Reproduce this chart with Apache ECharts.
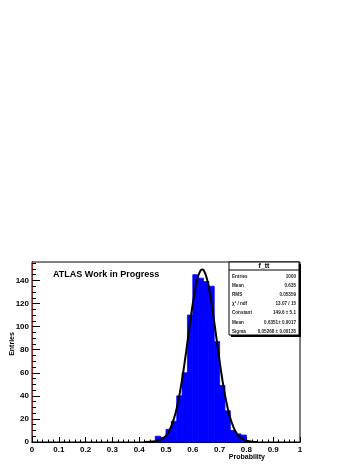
<!DOCTYPE html>
<html><head><meta charset="utf-8">
<script src="https://cdn.jsdelivr.net/npm/echarts@6/dist/echarts.min.js"></script>
<style>html,body{margin:0;padding:0;background:#fff}#c{width:360px;height:466px}</style>
</head><body><div id="c"></div>
<script>
// Histogram bins (lower edges) and counts, bin width 0.02
const binLow = [0.46,0.48,0.50,0.52,0.54,0.56,0.58,0.60,0.62,0.64,0.66,0.68,0.70,0.72,0.74,0.76,0.78];
const counts = [5,4,11,18,40,60,110,145,142,139,135,87,49,27,10,7,6];
const binWidth = 0.02;
// Fitted curve
const fitX = [0.42,0.44,0.46,0.47,0.48,0.49,0.50,0.51,0.52,0.53,0.54,0.55,0.56,0.57,0.58,0.59,0.60,0.61,0.62,0.63,0.635,0.64,0.65,0.66,0.67,0.68,0.69,0.70,0.71,0.72,0.73,0.74,0.75,0.76,0.77,0.78,0.79,0.80,0.82,0.84];
const fitY = [0.04,0.16,0.6,1.1,2.0,3.4,5.6,8.9,13.8,20.5,29.3,40.6,54.2,69.7,86.6,103.7,119.8,133.5,143.6,148.9,149.6,149.0,143.7,133.8,120.1,104.0,86.9,70.0,54.4,40.8,29.5,20.6,13.9,9.0,5.6,3.4,2.0,1.1,0.3,0.08];
const xTicks = [0,0.1,0.2,0.3,0.4,0.5,0.6,0.7,0.8,0.9,1];
const yTicks = [0,20,40,60,80,100,120,140];
const statsTitle = 'f_tt';
const statsLabels = ['Entries','Mean','RMS','\u03c7\u00b2 / ndf','Constant','Mean','Sigma'];
const statsValues = ['1000','0.635','0.05359','13.07 / 15','149.6 \u00b1 5.1','0.6351\u00b1 0.0017','0.05268 \u00b1 0.00135'];

const FONT = '"Liberation Sans", Arial, sans-serif';
const chart = echarts.init(document.getElementById('c'), null, {renderer:'canvas'});

const histData = binLow.map((x,i)=>[x, x+binWidth, counts[i]]);
const fitData = fitX.map((x,i)=>[x, fitY[i]]);

const rowY = [276.7,285.7,294.7,304,313,322.3,331.3];
const graphics = [
  {type:'rect', shape:{x:231,y:264,width:70,height:73}, style:{fill:'#000'}, z:100},
  {type:'rect', shape:{x:229,y:262,width:70,height:73}, style:{fill:'#fff',stroke:'#000',lineWidth:1}, z:101},
  {type:'line', shape:{x1:229,y1:270,x2:299,y2:270}, style:{stroke:'#000',lineWidth:1}, z:102},
  {type:'text', x:264, y:266, style:{text:statsTitle, font:'bold 7px '+FONT, fill:'#000', align:'center', verticalAlign:'middle'}, z:102},
  {type:'text', x:53, y:274.5, style:{text:'ATLAS Work in Progress', font:'bold 9px '+FONT, fill:'#000', align:'left', verticalAlign:'middle'}, z:102},
  {type:'text', x:12, y:344, rotation:Math.PI/2, style:{text:'Entries', font:'bold 7px '+FONT, fill:'#000', align:'center', verticalAlign:'middle'}, z:102},
  {type:'text', x:265, y:457, style:{text:'Probability', font:'bold 7px '+FONT, fill:'#000', align:'right', verticalAlign:'middle'}, z:102}
];
statsLabels.forEach((t,i)=>{
  graphics.push({type:'text', x:232, y:rowY[i], style:{text:t, font:'bold 4.6px '+FONT, fill:'#222', align:'left', verticalAlign:'middle'}, z:102});
  graphics.push({type:'text', x:296, y:rowY[i], style:{text:statsValues[i], font:'bold 4.6px '+FONT, fill:'#222', align:'right', verticalAlign:'middle'}, z:102});
});

chart.setOption({
  animation:false,
  backgroundColor:'#fff',
  grid:{left:32,right:60,top:262,bottom:24,show:true,borderColor:'#000',borderWidth:1,backgroundColor:'#fff'},
  xAxis:[{
    type:'value', min:0, max:1, interval:0.1,
    axisLine:{show:true,onZero:false,lineStyle:{color:'#8b2a2a',width:1}},
    axisTick:{show:true,inside:true,length:5,lineStyle:{color:'#000'}},
    minorTick:{show:true,splitNumber:5,length:2.5,lineStyle:{color:'#000'}},
    splitLine:{show:false},
    axisLabel:{color:'#000',fontFamily:FONT,fontWeight:'bold',fontSize:8,margin:4,
      formatter:v=>{const t=xTicks.find(a=>Math.abs(a-v)<1e-9);return t===undefined?'':String(t);}}
  },{
    type:'value', position:'top', min:0, max:1,
    axisLine:{show:true,lineStyle:{color:'#000'}}, axisTick:{show:false}, axisLabel:{show:false}, splitLine:{show:false}
  }],
  yAxis:[{
    type:'value', min:0, max:156, interval:20,
    axisLine:{show:true,onZero:false,lineStyle:{color:'#000'}},
    axisTick:{show:true,inside:true,length:8,lineStyle:{color:'#000'},customValues:yTicks},
    minorTick:{show:true,splitNumber:4,length:4,lineStyle:{color:'#000'}},
    splitLine:{show:false},
    axisLabel:{color:'#000',fontFamily:FONT,fontWeight:'bold',fontSize:8,margin:3,customValues:yTicks}
  },{
    type:'value', position:'right', min:0, max:156,
    axisLine:{show:true,lineStyle:{color:'#8b2a2a'}}, axisTick:{show:false}, axisLabel:{show:false}, splitLine:{show:false}
  }],
  series:[{
    type:'custom',
    xAxisIndex:0, yAxisIndex:0,
    data:histData,
    renderItem:(params,api)=>{
      const p0 = api.coord([api.value(0), api.value(2)]);
      const p1 = api.coord([api.value(1), 0]);
      return {type:'rect', shape:{x:p0[0], y:p0[1], width:p1[0]-p0[0], height:p1[1]-p0[1]}, style:{fill:'#0000ff', stroke:'#0000ff', lineWidth:0.8}};
    },
    z:2
  },{
    type:'line', xAxisIndex:0, yAxisIndex:0,
    data:fitData, smooth:true, showSymbol:false,
    lineStyle:{color:'#000',width:2}, z:3
  }],
  graphic:graphics
});
</script></body></html>
